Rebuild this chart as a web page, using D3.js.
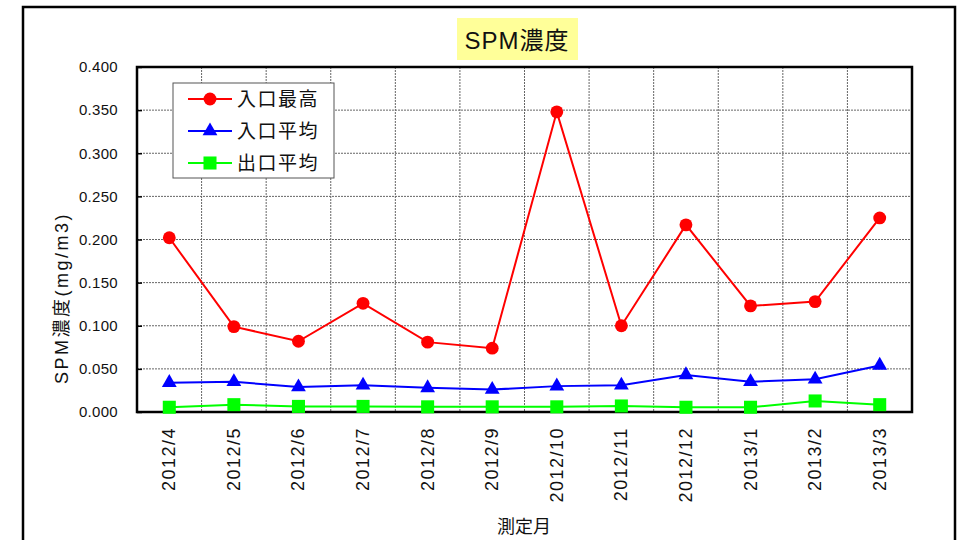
<!DOCTYPE html>
<html>
<head>
<meta charset="utf-8">
<script src="https://cdn.jsdelivr.net/npm/d3@7"></script>
<style>
  body { margin: 0; background: #fff; }
  text { font-family: "Liberation Sans", "Noto Sans CJK JP", sans-serif; fill: #111; }
</style>
</head>
<body>
<div id="chart"></div>
<script>
// Data
const months = ["2012/4", "2012/5", "2012/6", "2012/7", "2012/8", "2012/9",
                "2012/10", "2012/11", "2012/12", "2013/1", "2013/2", "2013/3"];
const inletMax = [0.202, 0.099, 0.082, 0.126, 0.081, 0.074, 0.348, 0.100, 0.217, 0.123, 0.128, 0.225];
const inletAvg = [0.034, 0.035, 0.029, 0.031, 0.028, 0.026, 0.030, 0.031, 0.043, 0.035, 0.038, 0.054];
const outletAvg = [0.0055, 0.0085, 0.0065, 0.0065, 0.006, 0.006, 0.006, 0.007, 0.0055, 0.0055, 0.0128, 0.0085];
const yTicks = [0, 0.05, 0.1, 0.15, 0.2, 0.25, 0.3, 0.35, 0.4];

const series = [
  {name: "入口最高", values: inletMax, color: "#ff0000", symbol: d3.symbolCircle, size: 130},
  {name: "入口平均", values: inletAvg, color: "#0000ff", symbol: d3.symbolTriangle, size: 95},
  {name: "出口平均", values: outletAvg, color: "#00ff00", symbol: d3.symbolSquare, size: 170}
];

const W = 967, H = 540;
const margin = {top: 67, left: 137},
    width = 912 - margin.left,
    height = 412 - margin.top;

const svg = d3.select("#chart")
  .append("svg")
    .attr("width", W)
    .attr("height", H);

// outer frame
svg.append("rect")
    .attr("x", 23).attr("y", 7)
    .attr("width", 932).attr("height", 560)
    .attr("fill", "none").attr("stroke", "#000").attr("stroke-width", 2.5);

// title
svg.append("rect")
    .attr("x", 457).attr("y", 18).attr("width", 121).attr("height", 42)
    .attr("fill", "#ffff99");
svg.append("text")
    .attr("x", 517).attr("y", 49)
    .attr("text-anchor", "middle")
    .style("font-size", "24px")
    .style("letter-spacing", "1px")
    .text("SPM濃度");

const g = svg.append("g")
    .attr("transform", `translate(${margin.left},${margin.top})`);

const x = d3.scaleBand().domain(months).range([0, width]);
const y = d3.scaleLinear().domain([0, 0.4]).range([height, 0]);

// grid
g.append("g")
  .selectAll("line")
  .data(yTicks.slice(1, -1))
  .join("line")
    .attr("x1", 0).attr("x2", width)
    .attr("y1", d => y(d)).attr("y2", d => y(d))
    .attr("stroke", "#666").attr("stroke-width", 1).attr("stroke-dasharray", "2,1");
g.append("g")
  .selectAll("line")
  .data(months.slice(1))
  .join("line")
    .attr("x1", d => x(d)).attr("x2", d => x(d))
    .attr("y1", 0).attr("y2", height)
    .attr("stroke", "#666").attr("stroke-width", 1).attr("stroke-dasharray", "2,1");

// Y axis
const yAxis = g.append("g")
    .call(d3.axisLeft(y).tickValues(yTicks).tickFormat(d3.format(".3f")).tickSizeInner(-5).tickSizeOuter(0).tickPadding(19));
yAxis.select(".domain").remove();
yAxis.selectAll(".tick line").attr("stroke", "#000").attr("stroke-width", 1.5);
yAxis.selectAll("text").style("font-size", "15px").style("letter-spacing", "0.3px").attr("fill", "#111");

// X axis labels
g.append("g")
  .selectAll("text")
  .data(months)
  .join("text")
    .attr("transform", d => `translate(${x(d) + x.bandwidth() / 2 + 6},${height + 15}) rotate(-90)`)
    .attr("text-anchor", "end")
    .style("font-size", "18px")
    .style("letter-spacing", "1.5px")
    .text(d => d);

// plot frame
g.append("rect")
    .attr("width", width).attr("height", height)
    .attr("fill", "none").attr("stroke", "#000").attr("stroke-width", 2.5);

// axis titles
svg.append("text")
    .attr("transform", `translate(68,298) rotate(-90)`)
    .attr("text-anchor", "middle")
    .style("font-size", "18px")
    .style("letter-spacing", "2.5px")
    .text("SPM濃度(mg/m3)");
svg.append("text")
    .attr("x", 524).attr("y", 533)
    .attr("text-anchor", "middle")
    .style("font-size", "18px")
    .text("測定月");

// lines and markers
const line = d3.line()
    .x((d, i) => x(months[i]) + x.bandwidth() / 2)
    .y(d => y(d));

series.forEach(s => {
  g.append("path")
      .datum(s.values)
      .attr("fill", "none")
      .attr("stroke", s.color)
      .attr("stroke-width", 2)
      .attr("d", line);
  g.append("g")
    .selectAll("path")
    .data(s.values)
    .join("path")
      .attr("transform", (d, i) => `translate(${x(months[i]) + x.bandwidth() / 2},${y(d)})`)
      .attr("d", d3.symbol().type(s.symbol).size(s.size))
      .attr("fill", s.color);
});

// legend
const legend = svg.append("g").attr("transform", "translate(173,83)");
legend.append("rect")
    .attr("width", 161).attr("height", 95)
    .attr("fill", "#fff").attr("stroke", "#555").attr("stroke-width", 1);
const item = legend.selectAll(".item")
  .data(series)
  .join("g")
    .attr("class", "item")
    .attr("transform", (d, i) => `translate(0,${16 + i * 32})`);
item.append("line")
    .attr("x1", 15).attr("x2", 59)
    .attr("stroke", d => d.color).attr("stroke-width", 2);
item.append("path")
    .attr("transform", "translate(37,0)")
    .attr("d", d => d3.symbol().type(d.symbol).size(d.size)())
    .attr("fill", d => d.color);
item.append("text")
    .attr("x", 64).attr("y", 7)
    .style("font-size", "19px")
    .style("letter-spacing", "1.5px")
    .text(d => d.name);
</script>
</body>
</html>
